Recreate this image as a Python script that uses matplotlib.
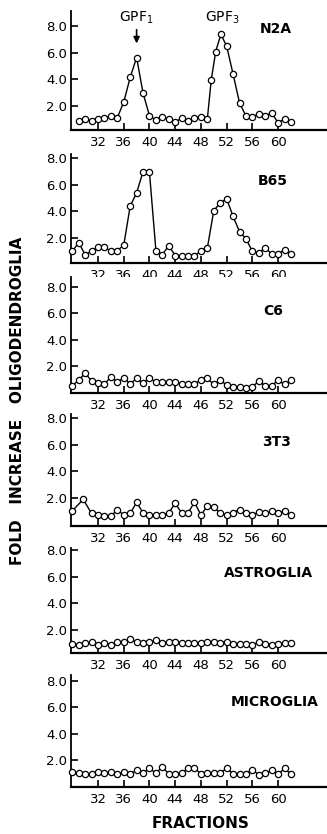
import matplotlib
matplotlib.use('Agg')
import matplotlib.pyplot as plt

# ===================== data =====================
FRAC = list(range(28, 63))
FRAC_N2A = list(range(29, 50)) + [49.6, 50.3, 51.1] + list(range(52, 63))
FRAC_3T3 = [28, 29.7] + list(range(31, 63))

N2A = [0.88, 1.02, 0.85, 1.02, 1.1, 1.22, 1.12, 2.3, 4.15, 5.65,
       2.98, 1.27, 0.95, 1.15, 1.05, 0.78, 1.1, 0.9, 1.1, 1.2,
       1.05, 3.95, 6.1, 7.4, 6.5, 4.4, 2.24, 1.25, 1.2, 1.4,
       1.25, 1.5, 0.72, 1.05, 0.8]
B65 = [0.98, 1.62, 0.73, 0.98, 1.29, 1.29, 0.98, 1.03, 1.44, 4.37,
       5.38, 6.96, 6.91, 1.03, 0.73, 1.41, 0.65, 0.65, 0.65, 0.6,
       1.03, 1.24, 4.04, 4.62, 4.93, 3.6, 2.46, 1.92, 0.98, 0.85,
       1.24, 0.78, 0.78, 1.11, 0.78]
C6 = [0.54, 0.97, 1.49, 0.9, 0.72, 0.64, 1.23, 0.8, 1.15, 0.69,
      1.1, 0.72, 1.15, 0.8, 0.8, 0.85, 0.8, 0.69, 0.69, 0.69,
      0.97, 1.1, 0.64, 0.97, 0.59, 0.46, 0.46, 0.38, 0.46, 0.9,
      0.54, 0.54, 0.97, 0.64, 0.97]
T3T3 = [1.04, 1.9, 0.84, 0.73, 0.63, 0.63, 1.14, 0.71, 0.84, 1.68,
        0.89, 0.73, 0.73, 0.73, 0.89, 1.6, 0.89, 0.89, 1.68, 0.73,
        1.39, 1.34, 0.84, 0.73, 0.89, 1.14, 0.89, 0.73, 0.96, 0.84,
        1.04, 0.84, 1.04, 0.73]
ASTRO = [0.95, 0.88, 1.0, 1.05, 0.88, 1.0, 0.88, 1.05, 1.05, 1.3,
         1.05, 1.0, 1.05, 1.2, 1.0, 1.1, 1.1, 1.0, 1.0, 1.0,
         1.0, 1.1, 1.05, 1.0, 1.1, 0.95, 0.95, 0.95, 0.88, 1.05,
         0.95, 0.88, 0.95, 1.0, 1.0]
MICRO = [1.15, 1.05, 0.95, 0.95, 1.1, 1.05, 1.15, 0.95, 1.15, 1.0,
         1.25, 1.05, 1.4, 1.05, 1.5, 1.0, 1.0, 1.05, 1.4, 1.4,
         1.0, 1.05, 1.05, 1.05, 1.4, 1.0, 1.0, 1.0, 1.3, 0.9,
         1.05, 1.25, 0.95, 1.4, 0.95]

XTICKS = [32, 36, 40, 44, 48, 52, 56, 60]
XTICKLABELS = ['32', '36', '40', '44', '48', '52', '56', '60']
XTICKLABELS_C6 = ['32', '36', '40', '44', '46', '52', '56', '60']   # as printed
YTICKS = [2, 4, 6, 8]
YTICKLABELS = ['2.0', '4.0', '6.0', '8.0']

PANELS = [
    ('N2A', FRAC_N2A, N2A, XTICKLABELS),
    ('B65', FRAC, B65, XTICKLABELS),
    ('C6', FRAC, C6, XTICKLABELS_C6),
    ('3T3', FRAC_3T3, T3T3, XTICKLABELS),
    ('ASTROGLIA', FRAC, ASTRO, XTICKLABELS),
    ('MICROGLIA', FRAC, MICRO, XTICKLABELS),
]

# ===================== layout (pixels) =====================
W, H, DPI = 327, 834, 100
LEFT_PX = 71
PX_UNIT = 13.3
AXIS_PX = [130, 263, 393, 526, 653, 787]
YLIMS = [(0.2, 9.15), (0.1, 8.3), (0.0, 8.7), (-0.1, 8.3), (0.25, 8.15), (0.0, 8.4)]
LABEL_POS = [(57.2, 7.8), (56.9, 6.3), (57.7, 6.2), (57.5, 6.2), (51.5, 6.3), (52.6, 6.4)]
XLIM = (27.8, 67.6)

fig = plt.figure(figsize=(W / DPI, H / DPI), dpi=DPI)

axes = []
for i, (name, fx, vals, xtl) in enumerate(PANELS):
    y0, y1 = YLIMS[i]
    hpx = (y1 - y0) * PX_UNIT
    rect = [LEFT_PX / W, 1 - AXIS_PX[i] / H, (W - LEFT_PX) / W, hpx / H]
    ax = fig.add_axes(rect)
    ax.plot(fx, vals, '-', color='black', lw=1.0, zorder=2, clip_on=False)
    ax.plot(fx, vals, 'o', ms=4.5, mfc='white', mec='black', mew=0.9,
            zorder=3, clip_on=False)
    ax.set_xlim(*XLIM)
    ax.set_ylim(y0, y1)
    ax.set_xticks(XTICKS)
    ax.set_xticklabels(xtl)
    ax.set_yticks(YTICKS)
    ax.set_yticklabels(YTICKLABELS)
    for s in ('top', 'right'):
        ax.spines[s].set_visible(False)
    ax.spines['left'].set_linewidth(1.3)
    ax.spines['bottom'].set_linewidth(1.6)
    ax.tick_params(axis='both', direction='in', length=5, width=1.2,
                   labelsize=9.5, colors='black')
    ax.tick_params(axis='x', pad=4)
    ax.tick_params(axis='y', pad=3)
    lx, ly = LABEL_POS[i]
    ax.text(lx, ly, name, ha='left', va='center', fontsize=10,
            fontweight='bold', clip_on=False)
    axes.append(ax)

# GPF annotations on the top panel
ax0 = axes[0]
ax0.annotate('', xy=(38, 6.5), xytext=(38, 7.95),
             arrowprops=dict(arrowstyle='-|>', lw=1.2, color='black',
                             mutation_scale=9))
ax0.text(38, 8.6, r'GPF$_1$', ha='center', va='center', fontsize=10)
ax0.text(51.3, 8.6, r'GPF$_3$', ha='center', va='center', fontsize=10)

fig.text(18 / W, 1 - 401 / H, 'FOLD   INCREASE   OLIGODENDROGLIA',
         rotation=90, ha='center', va='center', fontsize=11, fontweight='bold')
fig.text(201 / W, 1 - 823 / H, 'FRACTIONS', ha='center', va='center',
         fontsize=11, fontweight='bold')

fig.savefig('out.png', dpi=DPI, facecolor='white')
